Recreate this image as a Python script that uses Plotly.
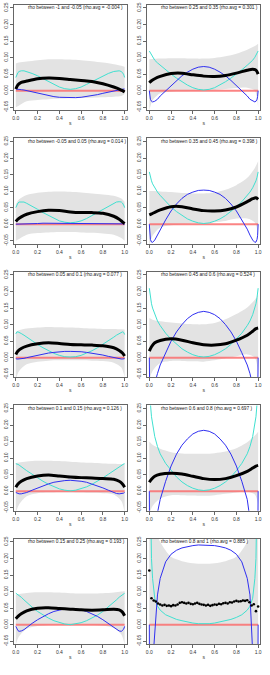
import plotly.graph_objects as go

# ---------------- data ----------------
TITLES = [
    "rho between -1 and -0.05 (rho.avg = -0.004 )",
    "rho between -0.05 and 0.05 (rho.avg = 0.014 )",
    "rho between 0.05 and 0.1 (rho.avg = 0.077 )",
    "rho between 0.1 and 0.15 (rho.avg = 0.126 )",
    "rho between 0.15 and 0.25 (rho.avg = 0.193 )",
    "rho between 0.25 and 0.35 (rho.avg = 0.301 )",
    "rho between 0.35 and 0.45 (rho.avg = 0.398 )",
    "rho between 0.45 and 0.6 (rho.avg = 0.524 )",
    "rho between 0.6 and 0.8 (rho.avg = 0.697 )",
    "rho between 0.8 and 1 (rho.avg = 0.885 )",
]

X_TICKS = [0.0, 0.2, 0.4, 0.6, 0.8, 1.0]
X_TICK_LABELS = ["0.0", "0.2", "0.4", "0.6", "0.8", "1.0"]
Y_TICKS = [-0.05, 0.0, 0.05, 0.10, 0.15, 0.20, 0.25]
Y_TICK_LABELS = ["-0.05", "0.00", "0.05", "0.10", "0.15", "0.20", "0.25"]

S_CURVE = [0, 0.005, 0.01, 0.02, 0.03, 0.05, 0.075, 0.1, 0.15, 0.2, 0.25, 0.3, 0.35, 0.4, 0.45, 0.5,
           0.55, 0.6, 0.65, 0.7, 0.75, 0.8, 0.85, 0.9, 0.925, 0.95, 0.97, 0.98, 0.99, 0.995, 1]
S_BAND = [0, 0.03, 0.1, 0.2, 0.3, 0.4, 0.5, 0.6, 0.7, 0.8, 0.9, 0.97, 1]
S_BLACK = [0, .02, .05, .1, .2, .3, .4, .5, .6, .7, .8, .9, .95, .98, 1]
RED_S = [0, 1]
RED_Y = [0, 0]

CYAN = [
    [0.040, 0.045, 0.050, 0.055, 0.058, 0.060, 0.060, 0.058, 0.052, 0.045, 0.036, 0.027, 0.019, 0.011, 0.006, 0.004,
     0.006, 0.011, 0.019, 0.027, 0.036, 0.045, 0.052, 0.058, 0.060, 0.060, 0.058, 0.055, 0.050, 0.045, 0.040],
    [0.050, 0.055, 0.060, 0.064, 0.067, 0.068, 0.067, 0.063, 0.055, 0.045, 0.035, 0.026, 0.017, 0.010, 0.006, 0.004,
     0.006, 0.010, 0.017, 0.026, 0.035, 0.045, 0.055, 0.063, 0.067, 0.068, 0.067, 0.064, 0.060, 0.055, 0.050],
    [0.072, 0.076, 0.078, 0.078, 0.077, 0.073, 0.068, 0.062, 0.051, 0.040, 0.030, 0.021, 0.013, 0.007, 0.003, 0.002,
     0.003, 0.007, 0.013, 0.021, 0.030, 0.040, 0.051, 0.062, 0.068, 0.073, 0.077, 0.078, 0.077, 0.074, 0.070],
    [0.083, 0.083, 0.082, 0.081, 0.079, 0.075, 0.068, 0.062, 0.051, 0.040, 0.030, 0.021, 0.013, 0.007, 0.003, 0.001,
     0.003, 0.007, 0.013, 0.021, 0.030, 0.040, 0.051, 0.062, 0.068, 0.075, 0.079, 0.081, 0.082, 0.083, 0.083],
    [0.095, 0.094, 0.093, 0.091, 0.088, 0.083, 0.075, 0.067, 0.053, 0.040, 0.029, 0.020, 0.012, 0.006, 0.002, 0.000,
     0.002, 0.006, 0.012, 0.020, 0.029, 0.040, 0.053, 0.067, 0.075, 0.083, 0.088, 0.091, 0.093, 0.094, 0.095],
    [0.120, 0.117, 0.113, 0.107, 0.101, 0.092, 0.084, 0.077, 0.063, 0.050, 0.038, 0.027, 0.017, 0.009, 0.004, 0.002,
     0.004, 0.009, 0.017, 0.027, 0.038, 0.050, 0.063, 0.077, 0.084, 0.092, 0.101, 0.107, 0.113, 0.117, 0.120],
    [0.158, 0.150, 0.142, 0.131, 0.122, 0.110, 0.097, 0.087, 0.068, 0.052, 0.038, 0.026, 0.016, 0.009, 0.004, 0.002,
     0.004, 0.009, 0.016, 0.026, 0.038, 0.052, 0.068, 0.087, 0.097, 0.110, 0.122, 0.131, 0.142, 0.150, 0.158],
    [0.210, 0.195, 0.182, 0.163, 0.150, 0.130, 0.111, 0.097, 0.074, 0.056, 0.040, 0.027, 0.017, 0.009, 0.004, 0.002,
     0.004, 0.009, 0.017, 0.027, 0.040, 0.056, 0.074, 0.097, 0.111, 0.130, 0.150, 0.163, 0.182, 0.195, 0.210],
    [0.350, 0.300, 0.265, 0.225, 0.200, 0.165, 0.135, 0.113, 0.084, 0.062, 0.043, 0.028, 0.017, 0.009, 0.004, 0.002,
     0.004, 0.009, 0.017, 0.028, 0.043, 0.062, 0.084, 0.113, 0.135, 0.165, 0.200, 0.225, 0.265, 0.300, 0.350],
    [0.600, 0.450, 0.320, 0.200, 0.140, 0.080, 0.056, 0.044, 0.030, 0.022, 0.016, 0.012, 0.008, 0.005, 0.003, 0.002,
     0.003, 0.005, 0.008, 0.012, 0.016, 0.022, 0.030, 0.044, 0.056, 0.080, 0.140, 0.200, 0.320, 0.450, 0.600],
]

BLUE = [
    [0.005, 0.005, 0.005, 0.005, 0.004, 0.003, 0.002, 0.000, -0.004, -0.008, -0.012, -0.015, -0.018, -0.020, -0.021, -0.021,
     -0.021, -0.020, -0.018, -0.015, -0.012, -0.008, -0.004, 0.000, 0.002, 0.003, 0.004, 0.005, 0.005, 0.005, 0.005],
    [0.000, 0.000, 0.000, 0.001, 0.001, 0.001, 0.002, 0.002, 0.002, 0.002, 0.003, 0.003, 0.003, 0.003, 0.003, 0.003,
     0.003, 0.003, 0.003, 0.003, 0.003, 0.002, 0.002, 0.002, 0.002, 0.001, 0.001, 0.001, 0.000, 0.000, 0.000],
    [-0.003, -0.004, -0.004, -0.004, -0.004, -0.003, -0.002, 0.000, 0.004, 0.008, 0.011, 0.014, 0.016, 0.018, 0.019, 0.019,
     0.019, 0.018, 0.016, 0.014, 0.011, 0.008, 0.004, 0.000, -0.002, -0.003, -0.004, -0.004, -0.004, -0.004, -0.003],
    [-0.004, -0.005, -0.006, -0.007, -0.008, -0.008, -0.007, -0.004, 0.003, 0.010, 0.016, 0.022, 0.027, 0.030, 0.032, 0.033,
     0.032, 0.030, 0.027, 0.022, 0.016, 0.010, 0.003, -0.004, -0.007, -0.008, -0.008, -0.007, -0.006, -0.005, -0.004],
    [-0.005, -0.010, -0.014, -0.018, -0.020, -0.019, -0.015, -0.008, 0.004, 0.015, 0.025, 0.033, 0.040, 0.045, 0.048, 0.049,
     0.048, 0.045, 0.040, 0.033, 0.025, 0.015, 0.004, -0.008, -0.015, -0.019, -0.020, -0.018, -0.014, -0.010, -0.005],
    [0.000, -0.018, -0.026, -0.032, -0.034, -0.032, -0.026, -0.016, 0.000, 0.016, 0.031, 0.045, 0.056, 0.065, 0.071, 0.073,
     0.071, 0.065, 0.056, 0.045, 0.031, 0.016, 0.000, -0.016, -0.026, -0.032, -0.034, -0.032, -0.026, -0.018, 0.000],
    [0.000, -0.035, -0.046, -0.054, -0.055, -0.048, -0.033, -0.015, 0.013, 0.040, 0.061, 0.078, 0.090, 0.097, 0.102, 0.103,
     0.102, 0.097, 0.090, 0.078, 0.061, 0.040, 0.013, -0.015, -0.033, -0.048, -0.055, -0.054, -0.046, -0.035, 0.000],
    [0.000, -0.150, -0.120, -0.108, -0.100, -0.075, -0.048, -0.022, 0.015, 0.050, 0.078, 0.100, 0.118, 0.130, 0.137, 0.140,
     0.137, 0.130, 0.118, 0.100, 0.078, 0.050, 0.015, -0.022, -0.048, -0.075, -0.100, -0.108, -0.120, -0.150, 0.000],
    [0.000, -0.250, -0.200, -0.170, -0.150, -0.110, -0.065, -0.025, 0.030, 0.076, 0.112, 0.139, 0.158, 0.173, 0.181, 0.184,
     0.181, 0.173, 0.158, 0.139, 0.112, 0.076, 0.030, -0.025, -0.065, -0.110, -0.150, -0.170, -0.200, -0.250, 0.000],
    [0.000, -0.400, -0.300, -0.200, -0.120, -0.010, 0.090, 0.140, 0.190, 0.213, 0.225, 0.232, 0.236, 0.239, 0.241, 0.241,
     0.241, 0.239, 0.236, 0.232, 0.225, 0.213, 0.190, 0.140, 0.090, -0.010, -0.120, -0.200, -0.300, -0.400, 0.000],
]

BLACK = [
    [0.005, 0.018, 0.025, 0.029, 0.036, 0.038, 0.037, 0.034, 0.031, 0.028, 0.021, 0.011, 0.005, 0.000, -0.004],
    [0.008, 0.015, 0.022, 0.030, 0.038, 0.042, 0.041, 0.037, 0.035, 0.035, 0.033, 0.024, 0.015, 0.007, 0.002],
    [0.010, 0.020, 0.028, 0.035, 0.042, 0.045, 0.043, 0.040, 0.039, 0.038, 0.036, 0.030, 0.022, 0.014, 0.005],
    [0.012, 0.022, 0.030, 0.038, 0.046, 0.049, 0.046, 0.043, 0.041, 0.040, 0.038, 0.036, 0.030, 0.022, 0.012],
    [0.018, 0.025, 0.033, 0.042, 0.050, 0.051, 0.049, 0.047, 0.045, 0.044, 0.045, 0.047, 0.045, 0.038, 0.027],
    [0.024, 0.030, 0.036, 0.043, 0.052, 0.053, 0.048, 0.044, 0.043, 0.046, 0.053, 0.062, 0.065, 0.062, 0.050],
    [0.028, 0.031, 0.036, 0.043, 0.053, 0.053, 0.046, 0.041, 0.040, 0.043, 0.052, 0.068, 0.077, 0.080, 0.075],
    [0.020, 0.033, 0.045, 0.052, 0.057, 0.053, 0.045, 0.039, 0.038, 0.042, 0.053, 0.068, 0.080, 0.088, 0.090],
    [0.027, 0.036, 0.045, 0.051, 0.054, 0.052, 0.045, 0.038, 0.035, 0.038, 0.047, 0.060, 0.070, 0.076, 0.078],
]

S10 = [0.00, 0.02, 0.04, 0.06, 0.08, 0.10, 0.12, 0.14, 0.16, 0.18, 0.20, 0.22, 0.24,
       0.26, 0.28, 0.30, 0.32, 0.34, 0.36, 0.38, 0.40, 0.42, 0.44, 0.46, 0.48, 0.50,
       0.52, 0.54, 0.56, 0.58, 0.60, 0.62, 0.64, 0.66, 0.68, 0.70, 0.72, 0.74, 0.76,
       0.78, 0.80, 0.82, 0.84, 0.86, 0.88, 0.90, 0.92, 0.94, 0.96, 0.98, 1.00]
BLACK10 = [0.164, 0.080, 0.073, 0.070, 0.064, 0.061, 0.058, 0.060, 0.057, 0.058, 0.056, 0.059, 0.058,
           0.061, 0.066, 0.068, 0.066, 0.064, 0.066, 0.063, 0.062, 0.064, 0.066, 0.063, 0.061, 0.060,
           0.058, 0.060, 0.057, 0.059, 0.061, 0.060, 0.063, 0.062, 0.065, 0.066, 0.064, 0.068, 0.067,
           0.070, 0.072, 0.070, 0.071, 0.073, 0.072, 0.074, 0.068, 0.058, 0.062, 0.041, 0.055]

BAND_UP = [
    [0.082, 0.085, 0.088, 0.092, 0.095, 0.095, 0.094, 0.092, 0.089, 0.085, 0.080, 0.075, 0.072],
    [0.060, 0.075, 0.088, 0.095, 0.098, 0.099, 0.098, 0.096, 0.093, 0.090, 0.086, 0.078, 0.068],
    [0.078, 0.083, 0.088, 0.091, 0.093, 0.092, 0.091, 0.090, 0.088, 0.087, 0.087, 0.086, 0.085],
    [0.085, 0.087, 0.090, 0.092, 0.092, 0.091, 0.089, 0.087, 0.086, 0.084, 0.083, 0.082, 0.082],
    [0.090, 0.093, 0.096, 0.098, 0.098, 0.097, 0.095, 0.094, 0.094, 0.095, 0.097, 0.100, 0.102],
    [0.095, 0.096, 0.097, 0.098, 0.098, 0.097, 0.097, 0.099, 0.104, 0.112, 0.124, 0.135, 0.142],
    [0.100, 0.100, 0.099, 0.097, 0.094, 0.093, 0.093, 0.096, 0.104, 0.118, 0.140, 0.170, 0.190],
    [0.120, 0.115, 0.110, 0.106, 0.103, 0.101, 0.101, 0.105, 0.116, 0.132, 0.152, 0.175, 0.190],
    [0.150, 0.140, 0.128, 0.118, 0.114, 0.113, 0.113, 0.115, 0.120, 0.130, 0.148, 0.168, 0.180],
    [0.350, 0.300, 0.250, 0.205, 0.192, 0.186, 0.184, 0.186, 0.192, 0.205, 0.250, 0.300, 0.350],
]
BAND_LO = [
    [-0.050, -0.045, -0.032, -0.028, -0.026, -0.024, -0.023, -0.022, -0.021, -0.020, -0.018, -0.016, -0.010],
    [-0.050, -0.045, -0.032, -0.027, -0.025, -0.024, -0.024, -0.025, -0.026, -0.028, -0.032, -0.042, -0.050],
    [-0.065, -0.040, -0.020, -0.012, -0.009, -0.008, -0.008, -0.008, -0.009, -0.010, -0.015, -0.030, -0.060],
    [-0.065, -0.040, -0.015, -0.006, -0.004, -0.003, -0.003, -0.004, -0.005, -0.006, -0.010, -0.030, -0.065],
    [-0.060, -0.035, -0.012, -0.004, -0.001, 0.000, 0.000, 0.000, -0.001, -0.003, -0.010, -0.030, -0.060],
    [-0.060, -0.030, -0.008, -0.003, -0.002, -0.001, 0.000, 0.002, 0.005, 0.008, 0.009, 0.000, -0.050],
    [-0.065, -0.035, -0.010, -0.003, 0.000, 0.002, 0.003, 0.006, 0.010, 0.017, 0.017, 0.005, -0.030],
    [-0.065, -0.040, -0.016, -0.010, -0.010, -0.011, -0.012, -0.008, -0.002, 0.004, 0.010, 0.000, -0.050],
    [-0.070, -0.045, -0.022, -0.012, -0.012, -0.013, -0.014, -0.012, -0.008, -0.004, -0.002, -0.010, -0.040],
    [-0.100, -0.100, -0.100, -0.100, -0.100, -0.100, -0.100, -0.100, -0.100, -0.100, -0.100, -0.100, -0.100],
]

# ---------------- figure ----------------
W, H = 270, 675
fig = go.Figure()
FONT = "Liberation Sans, Arial, sans-serif"

for i in range(10):
    col = i // 5
    row = i % 5
    n = i + 1
    xa = "x" if n == 1 else f"x{n}"
    ya = "y" if n == 1 else f"y{n}"

    # band
    fig.add_trace(go.Scatter(x=S_BAND, y=BAND_LO[i], mode="lines",
                             line=dict(width=0, shape="spline", smoothing=0.8),
                             xaxis=xa, yaxis=ya, showlegend=False, hoverinfo="skip"))
    fig.add_trace(go.Scatter(x=S_BAND, y=BAND_UP[i], mode="lines", fill="tonexty",
                             fillcolor="#e3e3e3",
                             line=dict(width=0, shape="spline", smoothing=0.8),
                             xaxis=xa, yaxis=ya, showlegend=False, hoverinfo="skip"))
    # red zero line
    fig.add_trace(go.Scatter(x=RED_S, y=RED_Y, mode="lines",
                             line=dict(color="rgba(250,110,110,0.85)", width=2),
                             xaxis=xa, yaxis=ya, showlegend=False))
    # cyan
    fig.add_trace(go.Scatter(x=S_CURVE, y=CYAN[i], mode="lines",
                             line=dict(color="#40e0d0", width=1),
                             xaxis=xa, yaxis=ya, showlegend=False))
    # blue
    fig.add_trace(go.Scatter(x=S_CURVE, y=BLUE[i], mode="lines",
                             line=dict(color="#2f2ff0", width=1),
                             xaxis=xa, yaxis=ya, showlegend=False))
    # black
    if i < 9:
        fig.add_trace(go.Scatter(x=S_BLACK, y=BLACK[i], mode="lines",
                                 line=dict(color="black", width=3, shape="spline", smoothing=0.8),
                                 xaxis=xa, yaxis=ya, showlegend=False))
    else:
        fig.add_trace(go.Scatter(x=S10, y=BLACK10, mode="markers",
                                 marker=dict(color="black", size=2.6),
                                 xaxis=xa, yaxis=ya, showlegend=False))

    # domains
    x0 = 13 if col == 0 else 148
    x1 = x0 + 114
    yt = 2 + 134.5 * row
    yb = yt + 106
    xdom = [x0 / W, x1 / W]
    ydom = [1 - yb / H, 1 - yt / H]

    axis_common = dict(showline=True, mirror=True, linecolor="#666", linewidth=1,
                       ticks="outside", ticklen=3, tickwidth=1, tickcolor="#666",
                       showgrid=False, zeroline=False, ticklabeloverflow="allow",
                       tickfont=dict(size=5, color="#333", family=FONT))
    xkey = "xaxis" if n == 1 else f"xaxis{n}"
    ykey = "yaxis" if n == 1 else f"yaxis{n}"
    fig.update_layout(**{
        xkey: dict(domain=xdom, anchor=ya, range=[-0.018, 1.018],
                   tickvals=X_TICKS, ticktext=X_TICK_LABELS,
                   title=dict(text="s", font=dict(size=5, color="#333", family=FONT), standoff=1),
                   **axis_common),
        ykey: dict(domain=ydom, anchor=xa, range=[-0.059, 0.259],
                   tickvals=Y_TICKS, ticktext=Y_TICK_LABELS, tickangle=-90,
                   **axis_common),
    })
    fig.add_annotation(x=0.09, y=0.25, xref=xa, yref=ya, text=TITLES[i],
                       showarrow=False, xanchor="left", yanchor="middle",
                       font=dict(size=4.8, color="#222", family=FONT))

fig.update_layout(width=W, height=H, margin=dict(l=0, r=0, t=0, b=0),
                  paper_bgcolor="white", plot_bgcolor="white",
                  font=dict(family=FONT))
fig.write_html("out.html",
               config={"displayModeBar": False, "staticPlot": True},
               post_script="document.body.style.margin='0';document.body.style.padding='0';"
                           "document.body.style.overflow='hidden';")
